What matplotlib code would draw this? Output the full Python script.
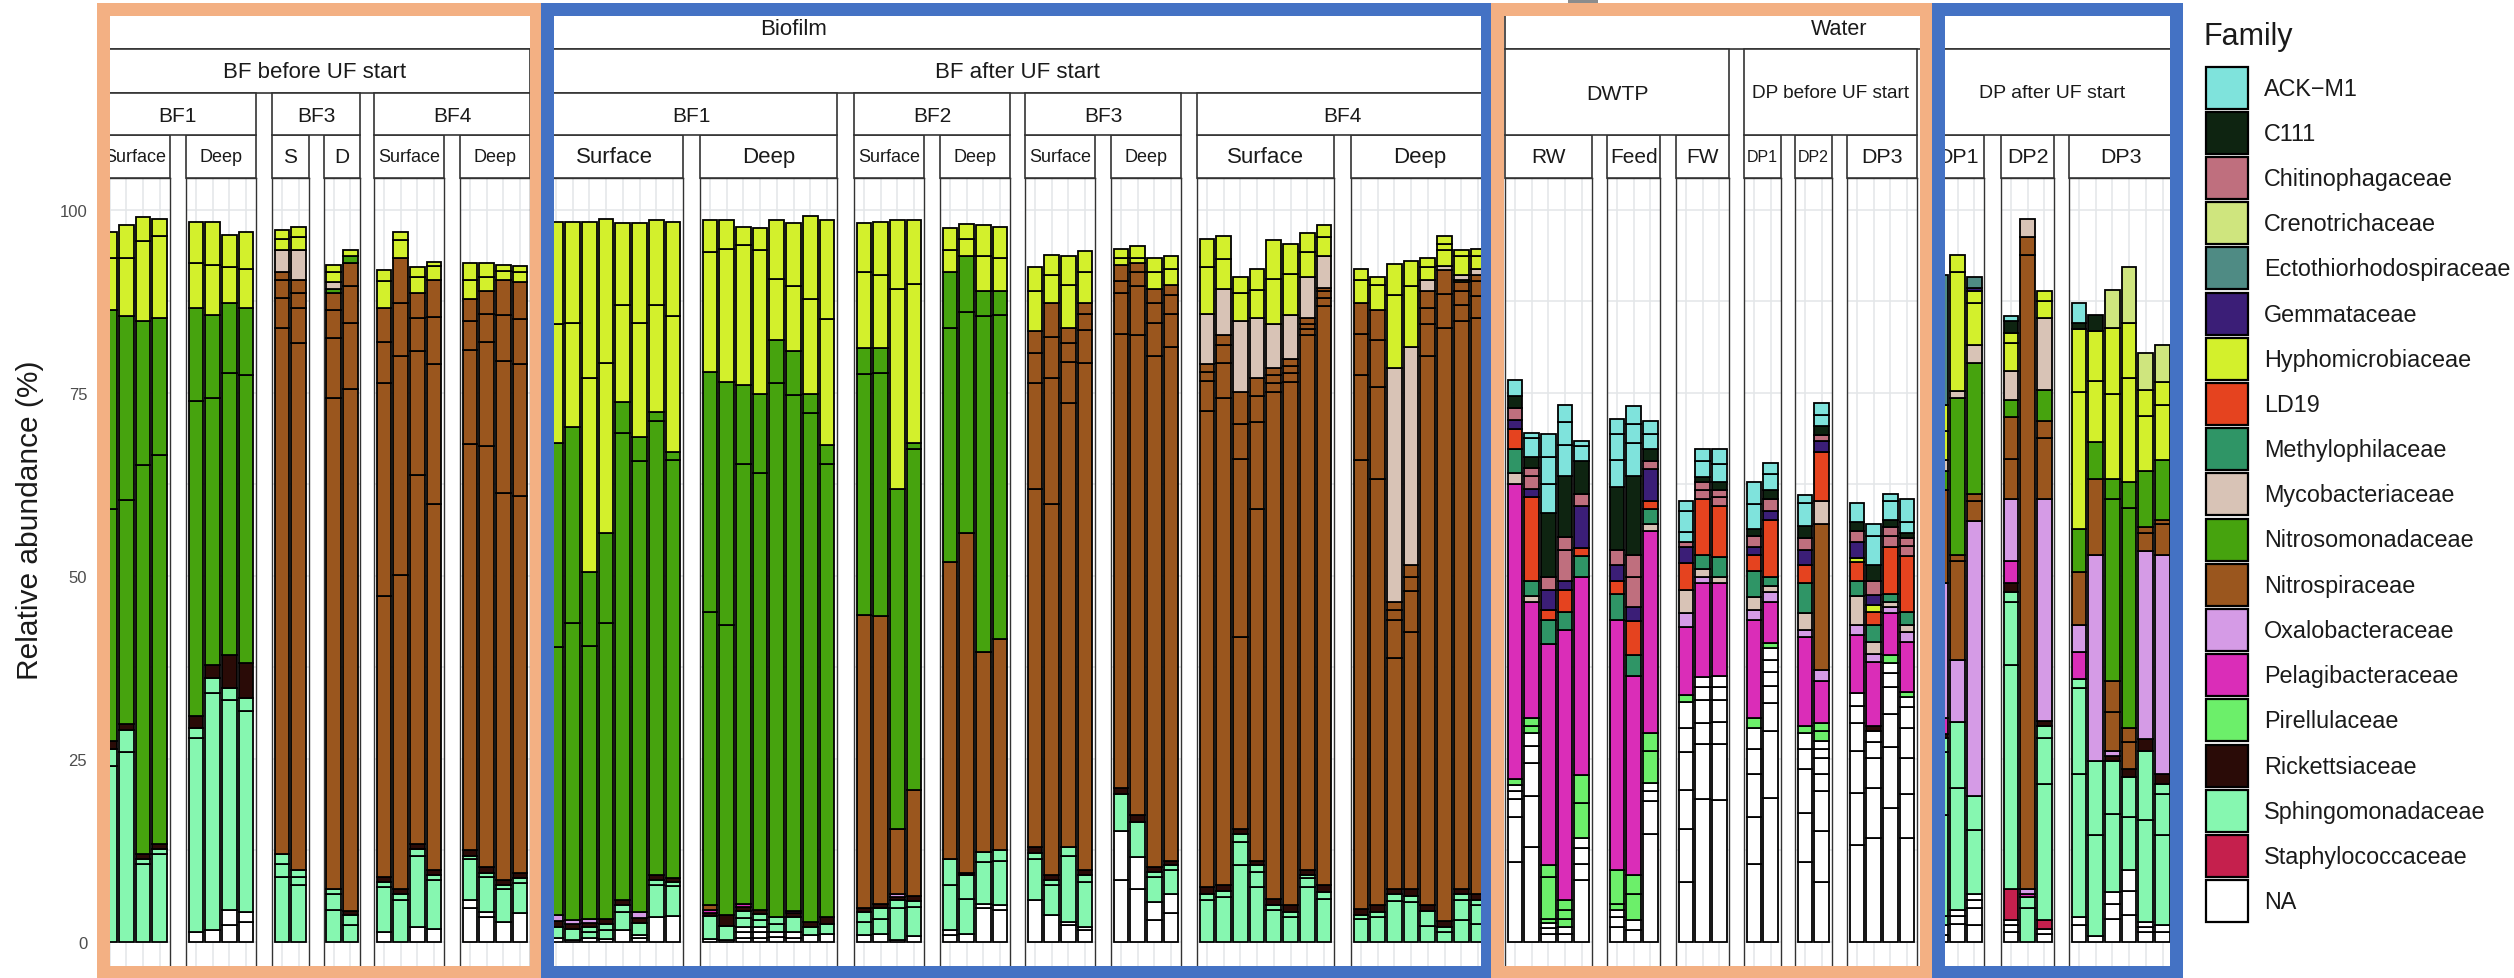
import matplotlib
matplotlib.use("Agg")
import matplotlib.pyplot as plt
from matplotlib.patches import Rectangle

plt.rcParams["font.family"] = ["Liberation Sans", "DejaVu Sans"]

# ---------------------------------------------------------------- families
family_labels = ["ACK\u2212M1", "C111", "Chitinophagaceae", "Crenotrichaceae",
                 "Ectothiorhodospiraceae", "Gemmataceae", "Hyphomicrobiaceae", "LD19",
                 "Methylophilaceae", "Mycobacteriaceae", "Nitrosomonadaceae",
                 "Nitrospiraceae", "Oxalobacteraceae", "Pelagibacteraceae",
                 "Pirellulaceae", "Rickettsiaceae", "Sphingomonadaceae",
                 "Staphylococcaceae", "NA"]
family_codes = ["ACK", "C111", "Chi", "Cre", "Ect", "Gem", "Hyp", "LD19", "Met", "Myc",
                "Nso", "Nsp", "Oxa", "Pel", "Pir", "Ric", "Sph", "Sta", "NA"]
family_colors = ["#7FE3DC", "#0E2411", "#BF6F7E", "#CFE57E", "#4F8B84", "#3B1E77",
                 "#D3F02C", "#E5431F", "#2F9566", "#D8C3B6", "#46A30E", "#9A561E",
                 "#D59BE6", "#DA2DB8", "#6CEF6A", "#2A0B07", "#86F7B0", "#C5204D",
                 "#FFFFFF"]

# ---------------------------------------------------------------- abundances (%)
# each bar: (family, OTU values...) ; OTUs of one family stack in the given order

# Biofilm - BF before UF start
pre_bf1_surface = [
    [("Sph", 24.0, 2.4), ("Ric", 1.1), ("Nso", 31.6, 27.2), ("Hyp", 7.2, 3.5)],
    [("Sph", 26.0, 2.9), ("Ric", 0.9), ("Nso", 30.6, 25.1), ("Hyp", 7.9, 4.5)],
    [("Sph", 10.6, 0.8), ("Ric", 0.6), ("Nso", 53.1, 19.8), ("Hyp", 10.9, 3.2)],
    [("Sph", 12.0, 0.7), ("Ric", 0.7), ("Nso", 53.1, 18.8), ("Hyp", 11.1, 2.4)],
]
pre_bf1_deep = [
    [("NA", 1.3), ("Sph", 26.5, 1.4), ("Ric", 1.7), ("Nso", 43.0, 12.7), ("Hyp", 6.2, 5.5)],
    [("NA", 1.6), ("Sph", 32.4, 2.1), ("Ric", 1.7), ("Nso", 36.5, 11.3), ("Hyp", 6.9, 5.8)],
    [("NA", 2.3, 2.1), ("Sph", 28.6, 1.7), ("Ric", 4.5), ("Nso", 38.5, 9.6), ("Hyp", 4.9, 4.4)],
    [("NA", 2.7, 1.4), ("Sph", 27.5, 1.7), ("Ric", 4.8), ("Nso", 39.3, 9.2), ("Hyp", 5.3, 5.1)],
]
pre_bf3_s = [
    [("Sph", 8.9, 1.7, 1.4), ("Nsp", 71.9, 4.1, 2.4, 1.1), ("Myc", 3.1), ("Hyp", 1.5, 1.2)],
    [("Sph", 7.8, 1.1, 1.0), ("Nsp", 71.9, 4.8, 2.1, 1.7), ("Myc", 4.2), ("Hyp", 1.7, 1.4)],
]
pre_bf3_d = [
    [("Sph", 4.4, 2.1, 0.7), ("Nsp", 67.1, 8.2, 3.8, 2.4), ("Nso", 0.5), ("Myc", 0.9),
     ("Hyp", 1.4, 1.0)],
    [("Sph", 2.3, 1.4), ("Ric", 0.6), ("Nsp", 71.2, 9.0, 5.1, 3.1), ("Nso", 1.0), ("Hyp", 0.8)],
]
pre_bf4_surface = [
    [("NA", 1.3), ("Sph", 6.2, 0.7), ("Ric", 0.7), ("Nsp", 38.3, 29.1, 5.7, 4.6), ("Hyp", 3.7, 1.5)],
    [("Sph", 5.8, 0.7), ("Ric", 0.7), ("Nsp", 43.0, 29.8, 7.3, 6.2), ("Hyp", 2.4, 1.1)],
    [("NA", 2.0), ("Sph", 9.8, 0.9), ("Ric", 0.7), ("Nsp", 50.4, 17.0, 4.5, 3.4), ("Hyp", 2.2, 1.3)],
    [("NA", 1.8), ("Sph", 6.7, 0.7), ("Ric", 0.7), ("Nsp", 50.0, 19.1, 6.4, 5.1), ("Hyp", 1.8, 0.6)],
]
pre_bf4_deep = [
    [("NA", 4.7, 1.1), ("Sph", 5.5, 0.5), ("Ric", 0.8), ("Nsp", 55.4, 12.9, 4.0, 2.9), ("Hyp", 2.7, 2.2)],
    [("NA", 3.4, 0.7), ("Sph", 4.8, 0.5), ("Ric", 0.8), ("Nsp", 57.5, 14.3, 3.8, 3.1), ("Hyp", 1.9, 2.0)],
    [("NA", 2.7), ("Sph", 4.5, 0.6), ("Ric", 0.6), ("Nsp", 52.9, 18.1, 6.2, 4.8), ("Hyp", 1.2, 0.9)],
    [("NA", 3.9), ("Sph", 4.1, 0.7), ("Ric", 0.7), ("Nsp", 51.5, 18.0, 6.2, 5.0), ("Hyp", 1.4, 0.8)],
]

# Biofilm - BF after UF start
post_bf1_surface = [
    [("NA", 0.6), ("Sph", 1.4), ("Ric", 0.8), ("Oxa", 0.9), ("Nso", 36.6, 27.8), ("Hyp", 16.3, 13.9)],
    [("NA", 0.3), ("Sph", 1.5), ("Ric", 0.7), ("Oxa", 0.5), ("Nso", 40.6, 26.7), ("Hyp", 14.3, 13.7)],
    [("NA", 0.5), ("Sph", 0.8, 0.8), ("Ric", 0.5), ("Oxa", 0.6), ("Nso", 37.3, 10.0), ("Hyp", 26.5, 21.3)],
    [("NA", 0.4), ("Sph", 1.3, 0.7), ("Ric", 0.8), ("Nso", 40.4, 12.3), ("Hyp", 23.2, 19.7)],
    [("NA", 1.7), ("Sph", 2.4, 1.0), ("Ric", 0.6), ("Nso", 63.9, 4.2), ("Hyp", 13.2, 11.2)],
    [("NA", 0.6, 0.4), ("Sph", 1.6), ("Ric", 0.7), ("Oxa", 0.8), ("Nso", 61.6, 3.3), ("Hyp", 15.5, 13.7)],
    [("NA", 3.4), ("Sph", 4.4, 0.7), ("Ric", 0.6), ("Nso", 62.1, 1.2), ("Hyp", 14.6, 11.6)],
    [("NA", 3.6), ("Sph", 4.1, 0.5), ("Ric", 0.6), ("Nso", 57.0, 1.2), ("Hyp", 18.5, 12.8)],
]
post_bf1_deep = [
    [("NA", 0.4), ("Sph", 3.1), ("Ric", 0.5), ("Pel", 0.4), ("Nsp", 0.6), ("Nso", 40.1, 32.8),
     ("Hyp", 16.3, 4.4)],
    [("NA", 0.3), ("Sph", 1.9), ("Ric", 1.5), ("Nso", 39.6, 33.2), ("Hyp", 18.2, 4.0)],
    [("NA", 0.6, 0.7, 0.7), ("Sph", 1.3, 1.0), ("Ric", 0.5), ("Pel", 0.4), ("Nso", 60.1, 10.8),
     ("Hyp", 19.1, 2.5)],
    [("NA", 0.6, 0.7, 0.7), ("Sph", 1.0, 0.8), ("Ric", 0.6), ("Nso", 59.7, 10.8), ("Hyp", 19.7, 2.9)],
    [("NA", 0.7, 0.6), ("Sph", 1.2, 0.9), ("Nso", 72.9, 5.9), ("Hyp", 8.4, 8.0)],
    [("NA", 0.6, 0.7), ("Sph", 2.1), ("Ric", 0.6), ("Pel", 0.3), ("Nso", 70.4, 6.0), ("Hyp", 8.9, 8.6)],
    [("NA", 1.0), ("Sph", 1.0), ("Ric", 0.7), ("Nso", 69.5, 2.7), ("Hyp", 12.9, 11.4)],
    [("NA", 1.1), ("Sph", 1.4), ("Ric", 0.9), ("Nso", 61.9, 2.6), ("Hyp", 17.2, 13.6)],
]
post_bf2_surface = [
    [("NA", 1.0), ("Sph", 1.7, 1.4), ("Ric", 0.6), ("Nsp", 40.0), ("Nso", 32.9, 3.5), ("Hyp", 10.4, 6.7)],
    [("NA", 1.1), ("Sph", 2.1, 1.4), ("Ric", 0.6), ("Nsp", 39.3), ("Nso", 33.2, 3.4), ("Hyp", 10.0, 7.2)],
    [("NA", 0.3), ("Sph", 4.4, 1.1), ("Ric", 0.3), ("Oxa", 0.4), ("Nsp", 8.9), ("Nso", 46.5),
     ("Hyp", 27.3, 9.4)],
    [("NA", 0.8), ("Sph", 4.0, 0.8), ("Ric", 0.7), ("Nsp", 14.5), ("Nso", 46.6, 0.7), ("Hyp", 21.8, 8.7)],
]
post_bf2_deep = [
    [("NA", 1.0, 0.7), ("Sph", 6.1, 3.5), ("Nsp", 40.6), ("Nso", 32.0, 7.6), ("Hyp", 3.1, 2.9)],
    [("NA", 1.1), ("Sph", 4.8, 3.2), ("Ric", 0.3), ("Nsp", 46.5), ("Nso", 30.1, 7.7), ("Hyp", 2.4, 2.0)],
    [("NA", 4.7, 0.5), ("Sph", 5.7, 1.4), ("Nsp", 27.3), ("Nso", 45.9, 3.5), ("Hyp", 4.7, 4.3)],
    [("NA", 4.4, 0.7), ("Sph", 6.0, 1.4), ("Nsp", 28.9), ("Nso", 44.2, 3.4), ("Hyp", 4.5, 4.2)],
]
post_bf3_surface = [
    [("NA", 5.8), ("Sph", 5.6, 0.7), ("Ric", 0.9), ("Nsp", 48.9, 14.4, 4.2, 2.9), ("Hyp", 5.6, 3.2)],
    [("NA", 3.7), ("Sph", 4.1, 0.7), ("Ric", 0.7), ("Nsp", 50.6, 17.2, 5.7, 4.6), ("Hyp", 3.8, 2.8)],
    [("NA", 2.3, 0.4), ("Sph", 9.1, 1.2), ("Nsp", 60.6, 5.7, 2.5, 2.1), ("Hyp", 5.8, 4.0)],
    [("NA", 1.7, 0.4), ("Sph", 6.1, 1.0), ("Ric", 0.7), ("Nsp", 69.2, 4.5, 2.2, 1.5), ("Hyp", 4.2, 2.9)],
]
post_bf3_deep = [
    [("NA", 8.5, 6.6), ("Sph", 5.1), ("Ric", 0.9), ("Nsp", 61.9, 5.6, 1.7, 2.2), ("Hyp", 1.0, 1.2)],
    [("NA", 7.3, 4.3), ("Sph", 4.8), ("Ric", 0.9), ("Nsp", 65.6, 6.7, 1.9, 1.3), ("Hyp", 0.7, 1.6)],
    [("NA", 3.0, 2.4), ("Sph", 3.5, 0.7), ("Ric", 0.7), ("Nsp", 69.8, 4.5, 2.7, 1.9), ("Hyp", 2.3, 2.0)],
    [("NA", 3.9, 2.6), ("Sph", 3.4, 0.6), ("Ric", 0.6), ("Nsp", 70.2, 4.5, 2.6, 1.3), ("Hyp", 2.2, 1.8)],
]
post_bf4_surface = [
    [("Sph", 5.8, 0.7), ("Ric", 1.0), ("Nsp", 65.0, 4.2, 1.2, 1.0), ("Myc", 6.9), ("Hyp", 6.4, 3.9)],
    [("Sph", 6.1, 0.9), ("Ric", 0.8), ("Nsp", 66.5, 4.8, 2.4, 1.4), ("Myc", 6.3), ("Hyp", 4.1, 3.2)],
    [("Sph", 10.5, 3.2, 1.0), ("Ric", 0.7), ("Nsp", 26.3, 24.3, 4.8, 4.4), ("Myc", 9.6), ("Hyp", 3.8, 2.2)],
    [("Sph", 7.5, 2.1, 0.9), ("Ric", 0.6), ("Nsp", 48.0, 11.9, 3.6, 2.4), ("Myc", 8.3), ("Hyp", 3.8, 2.8)],
    [("Sph", 4.4, 0.7), ("Ric", 0.8), ("Nsp", 69.3, 1.1, 1.1, 1.0), ("Myc", 6.0), ("Hyp", 6.2, 5.3)],
    [("Sph", 3.4, 0.7), ("Ric", 0.9), ("Nsp", 71.5, 1.2, 1.0, 0.9), ("Myc", 6.0), ("Hyp", 5.7, 4.1)],
    [("Sph", 7.5, 1.2, 0.5), ("Ric", 0.7), ("Nsp", 73.0, 0.8, 0.7, 0.9), ("Myc", 5.5), ("Hyp", 3.4, 2.6)],
    [("Sph", 5.9, 0.9), ("Ric", 1.0), ("Nsp", 79.1, 1.1, 0.9, 0.5), ("Myc", 4.3), ("Hyp", 2.6, 1.6)],
]
post_bf4_deep = [
    [("Sph", 3.2, 0.5), ("Ric", 0.8), ("Nsp", 61.3, 11.6, 5.6, 4.3), ("Hyp", 3.1, 1.5)],
    [("Sph", 3.4, 0.7), ("Ric", 1.0), ("Nsp", 58.1, 12.6, 6.4, 4.2), ("Hyp", 3.3, 1.1)],
    [("Sph", 5.6, 1.0), ("Ric", 0.7), ("Nsp", 31.5, 5.2, 1.4, 1.1), ("Myc", 31.9), ("Hyp", 10.0, 4.2)],
    [("Sph", 5.4, 0.9), ("Ric", 0.9), ("Nsp", 35.2, 5.5, 1.9, 1.7), ("Myc", 29.8), ("Hyp", 8.3, 3.4)],
    [("Sph", 2.2, 2.0), ("Ric", 0.9), ("Nsp", 75.0, 4.3, 2.2, 2.3), ("Myc", 1.5), ("Hyp", 1.8, 1.3)],
    [("Sph", 1.3, 0.7), ("Ric", 0.8), ("Nsp", 81.1, 4.6, 3.3), ("Myc", 0.6), ("Hyp", 2.2, 0.8, 1.1)],
    [("Sph", 3.0, 2.8, 0.7), ("Ric", 0.8), ("Nsp", 77.6, 2.1, 1.9, 1.2), ("Nso", 0.4), ("Myc", 0.6),
     ("Hyp", 2.6, 0.9)],
    [("Sph", 2.5, 2.6, 0.7), ("Ric", 0.7), ("Nsp", 78.8, 2.9, 2.1, 0.8), ("Myc", 0.8), ("Hyp", 1.8, 1.0)],
]

# Water - DWTP
dwtp_rw = [
    [("NA", 10.9, 6.2, 2.4, 1.1, 0.9), ("Pir", 0.8), ("Pel", 40.3), ("Myc", 1.5), ("Met", 3.3),
     ("LD19", 2.7), ("Gem", 1.2), ("Chi", 1.6), ("C111", 1.7), ("ACK", 2.2)],
    [("NA", 13.0, 6.9, 4.5, 2.4, 1.7), ("Pir", 1.0, 1.1), ("Pel", 15.8), ("Myc", 0.8), ("Met", 2.1),
     ("LD19", 11.5), ("Gem", 1.1), ("Chi", 1.7, 1.2), ("C111", 1.5), ("ACK", 2.5, 0.8)],
    [("NA", 1.1, 0.8, 0.7), ("Pir", 0.6, 5.7, 1.6), ("Pel", 30.2), ("Met", 3.3), ("LD19", 1.4),
     ("Gem", 2.7), ("Chi", 1.7), ("C111", 8.8), ("ACK", 4.0, 3.7, 3.1)],
    [("NA", 1.1, 0.9), ("Pir", 1.2, 1.2, 1.4), ("Pel", 36.8), ("Met", 2.5), ("LD19", 3.0),
     ("Gem", 1.2), ("Chi", 4.3, 1.7), ("C111", 8.4), ("ACK", 4.2, 3.1, 2.4)],
    [("NA", 8.5, 2.2, 2.1, 1.4), ("Pir", 4.8, 3.8), ("Pel", 27.0), ("Met", 2.9), ("LD19", 1.1),
     ("Gem", 5.8), ("Chi", 1.6), ("C111", 4.5), ("ACK", 2.0, 0.8)],
]
dwtp_feed = [
    [("NA", 2.0, 1.4, 1.0), ("Pir", 0.8, 4.7), ("Pel", 34.1), ("Met", 3.6), ("LD19", 1.7),
     ("Gem", 2.2), ("Chi", 2.1), ("C111", 8.6), ("ACK", 3.6, 3.6, 2.1)],
    [("NA", 1.7, 1.3), ("Pir", 3.5, 2.7), ("Pel", 27.2), ("Met", 2.8), ("LD19", 4.6), ("Gem", 2.0),
     ("Chi", 4.0, 3.1), ("C111", 10.8), ("ACK", 4.4, 2.7, 2.4)],
    [("NA", 14.7, 4.5, 1.4, 1.1), ("Pir", 4.4, 2.4), ("Pel", 27.7), ("Myc", 0.9), ("Met", 2.0),
     ("LD19", 1.2), ("Gem", 4.3), ("Chi", 1.1), ("C111", 1.7), ("ACK", 2.0, 1.8)],
]
dwtp_fw = [
    [("NA", 8.2, 7.2, 5.4, 5.1, 3.3, 3.6), ("Pir", 0.9), ("Pel", 9.3), ("Oxa", 2.0), ("Myc", 3.1),
     ("LD19", 3.7), ("Gem", 2.2), ("Chi", 0.6), ("ACK", 1.4, 2.9, 1.3)],
    [("NA", 19.5, 7.5, 2.9, 3.1, 1.8, 1.4), ("Pel", 12.9), ("Oxa", 0.7), ("Myc", 1.1), ("Met", 2.0),
     ("LD19", 7.6), ("Chi", 1.2, 1.2), ("C111", 0.6), ("ACK", 2.2, 1.7)],
    [("NA", 19.4, 7.6, 3.0, 3.0, 1.8, 1.6), ("Pel", 12.6), ("Myc", 0.8), ("Met", 2.8), ("LD19", 7.0),
     ("Chi", 1.2, 0.9), ("C111", 1.2), ("ACK", 2.4, 2.1)],
]

# Water - DP before UF start
dp_pre_dp1 = [
    [("NA", 10.6, 6.5, 5.9, 3.4, 2.8), ("Pir", 1.4), ("Pel", 13.4), ("Oxa", 1.4), ("Myc", 1.7),
     ("Met", 3.6), ("LD19", 2.2), ("Gem", 1.1), ("Chi", 1.5), ("C111", 0.9), ("ACK", 3.4, 3.0)],
    [("NA", 19.7, 9.1, 3.8, 2.4, 1.9, 1.6, 1.6), ("Pir", 0.8), ("Pel", 5.6), ("Oxa", 1.3), ("Myc", 0.8),
     ("Met", 1.2), ("LD19", 7.9), ("Gem", 1.2), ("Chi", 1.6), ("C111", 1.2), ("ACK", 2.2, 1.6)],
]
dp_pre_dp2 = [
    [("NA", 10.9, 6.7, 6.1, 2.7, 2.1), ("Pir", 1.0), ("Pel", 12.1), ("Oxa", 1.0), ("Myc", 2.4),
     ("Met", 4.0), ("LD19", 2.5), ("Gem", 2.1), ("Chi", 1.6), ("C111", 1.6), ("ACK", 3.2, 1.0)],
    [("NA", 8.2, 6.9, 5.5, 2.4, 2.1, 1.3, 1.1), ("Pir", 1.3, 1.1), ("Pel", 5.8), ("Oxa", 1.4),
     ("Nsp", 20.0), ("Myc", 3.1), ("LD19", 6.8), ("Gem", 1.4), ("Chi", 0.8), ("C111", 1.3),
     ("ACK", 1.5, 1.6)],
]
dp_pre_dp3 = [
    [("NA", 13.3, 7.1, 5.7, 3.8, 2.4, 1.7), ("Pel", 7.9), ("Oxa", 1.4), ("Myc", 3.9), ("Met", 2.1),
     ("LD19", 2.6), ("Hyp", 0.5), ("Gem", 2.2), ("Chi", 1.6), ("C111", 1.2), ("ACK", 2.6)],
    [("NA", 14.2, 6.9, 4.1, 2.1, 1.5), ("Ric", 0.7), ("Pel", 8.8), ("Oxa", 1.1), ("Myc", 1.6),
     ("Met", 2.3), ("LD19", 1.8), ("Hyp", 1.0), ("Gem", 1.3), ("Chi", 1.9), ("C111", 2.2),
     ("ACK", 4.0, 1.6)],
    [("NA", 18.3, 8.3, 4.5, 3.7, 2.0, 1.3), ("Pir", 1.1), ("Pel", 5.7), ("Oxa", 0.9), ("Myc", 0.7),
     ("Met", 1.1), ("LD19", 6.4), ("Chi", 1.5, 1.2), ("C111", 1.0), ("ACK", 2.6, 0.9)],
    [("NA", 14.2, 6.0, 4.9, 4.1, 2.9, 1.3), ("Pir", 0.7), ("Pel", 6.9), ("Oxa", 1.3), ("Myc", 1.0),
     ("Met", 1.8), ("LD19", 7.6), ("Chi", 1.4, 1.1), ("C111", 0.7), ("ACK", 1.5, 3.1)],
]

# Water - DP after UF start
dp_post_dp1 = [
    [("NA", 1.0, 1.3), ("Sph", 1.3, 13.7, 8.6, 2.0), ("Ric", 0.5), ("Pel", 2.2), ("Oxa", 18.4),
     ("Nsp", 12.7), ("Nso", 2.6), ("Myc", 1.5), ("Hyp", 4.0, 3.6), ("Ect", 17.7)],
    [("NA", 2.5, 1.1, 0.8), ("Sph", 16.7, 8.9), ("Oxa", 8.5), ("Nsp", 13.5, 0.9), ("Nso", 21.4),
     ("Myc", 1.0), ("Hyp", 16.2, 2.4)],
    [("NA", 2.3, 2.4, 1.1, 0.8), ("Sph", 8.7, 4.6), ("Oxa", 37.6), ("Nsp", 2.7, 1.0), ("Nso", 17.9),
     ("Myc", 2.4), ("Hyp", 5.8, 1.6), ("Gem", 0.5), ("Ect", 1.4)],
]
dp_post_dp2 = [
    [("NA", 1.3, 1.0, 0.7), ("Sta", 4.2), ("Sph", 30.6, 8.6, 1.4), ("Ric", 1.2), ("Pel", 3.0),
     ("Oxa", 8.5), ("Nsp", 5.5, 5.7), ("Nso", 2.4), ("Myc", 3.9), ("Hyp", 3.8, 1.4), ("C111", 1.6),
     ("ACK", 0.7)],
    [("Sph", 4.7, 1.4), ("Pel", 0.4), ("Oxa", 0.7), ("Nsp", 86.7, 2.4), ("Myc", 2.5)],
    [("NA", 1.1, 0.7), ("Sta", 1.2), ("Sph", 18.6, 6.2, 1.7), ("Ric", 0.7), ("Oxa", 30.3),
     ("Nsp", 8.3, 2.4), ("Nso", 4.2), ("Myc", 9.9), ("Hyp", 2.2, 1.4)],
]
dp_post_dp3 = [
    [("NA", 2.3, 1.1), ("Sph", 19.6, 11.7, 1.2), ("Pel", 3.7), ("Oxa", 3.7), ("Nsp", 7.2),
     ("Nso", 5.9), ("Hyp", 18.8, 8.5), ("C111", 0.9), ("ACK", 2.7)],
    [("NA", 0.8), ("Sph", 13.8, 10.1), ("Oxa", 28.2), ("Nsp", 10.3), ("Nso", 5.1), ("Hyp", 8.4, 6.7),
     ("C111", 2.2)],
    [("NA", 3.2, 2.0, 1.6), ("Sph", 10.7, 7.2), ("Ric", 0.7), ("Oxa", 0.7), ("Nsp", 5.3, 4.3),
     ("Nso", 24.8, 2.7), ("Hyp", 11.7, 9.0), ("Cre", 5.2)],
    [("NA", 3.7, 3.3, 2.8), ("Sph", 7.3, 5.5), ("Ric", 1.1), ("Nsp", 3.6, 2.0), ("Nso", 30.0, 3.6),
     ("Hyp", 14.1, 7.6), ("Cre", 7.6)],
    [("NA", 1.3, 0.7, 0.7), ("Sph", 14.0, 9.4), ("Ric", 1.6), ("Oxa", 25.7), ("Nsp", 2.5, 0.8),
     ("Nso", 7.6), ("Hyp", 7.6, 3.5), ("Cre", 5.1)],
    [("NA", 1.3, 1.0), ("Sph", 12.3, 5.6, 1.4), ("Ric", 1.4), ("Oxa", 29.9), ("Nsp", 4.2, 0.6),
     ("Nso", 8.1), ("Hyp", 7.6, 3.1), ("Cre", 5.0)],
]

# ---------------------------------------------------------------- figure geometry (pixels)
W, H, DPI = 2514, 979, 100
UNIT = 16.7                    # pixels per bar slot
PANEL_TOP, PANEL_BOTTOM = 179, 979
Y_LIMITS = (-4.92, 104.37)

panel_list = [
    (pre_bf1_surface, "Surface", 13, 99.7), (pre_bf1_deep, "Deep", 13, 186),
    (pre_bf3_s, "S", 15, 272), (pre_bf3_d, "D", 15, 323.5),
    (pre_bf4_surface, "Surface", 13, 374), (pre_bf4_deep, "Deep", 13, 460),
    (post_bf1_surface, "Surface", 16, 546), (post_bf1_deep, "Deep", 16, 700),
    (post_bf2_surface, "Surface", 13, 854), (post_bf2_deep, "Deep", 13, 940),
    (post_bf3_surface, "Surface", 13, 1025), (post_bf3_deep, "Deep", 13, 1111),
    (post_bf4_surface, "Surface", 16, 1197), (post_bf4_deep, "Deep", 16, 1351),
    (dwtp_rw, "RW", 15, 1505), (dwtp_feed, "Feed", 15, 1607), (dwtp_fw, "FW", 15, 1676),
    (dp_pre_dp1, "DP1", 11.5, 1744), (dp_pre_dp2, "DP2", 11.5, 1795), (dp_pre_dp3, "DP3", 15.4, 1847),
    (dp_post_dp1, "DP1", 15.4, 1931), (dp_post_dp2, "DP2", 15.4, 2001), (dp_post_dp3, "DP3", 15.4, 2069),
]

# nested strips: (label, first panel, last panel, y top, y bottom, font size)
strip_groups = [
    ("Biofilm", 0, 13, 7, 50, 16), ("Water", 14, 22, 7, 50, 15.5),
    ("BF before UF start", 0, 5, 50, 94, 16), ("BF after UF start", 6, 13, 50, 94, 16),
    ("DWTP", 14, 16, 50, 136, 15.3), ("DP before UF start", 17, 19, 50, 136, 13.7),
    ("DP after UF start", 20, 22, 50, 136, 14),
    ("BF1", 0, 1, 94, 136, 15), ("BF3", 2, 3, 94, 136, 15), ("BF4", 4, 5, 94, 136, 15),
    ("BF1", 6, 7, 94, 136, 15), ("BF2", 8, 9, 94, 136, 15), ("BF3", 10, 11, 94, 136, 15),
    ("BF4", 12, 13, 94, 136, 15),
]

color_of = dict(zip(family_codes, family_colors))
stack_rank = {c: i for i, c in enumerate(reversed(family_codes))}
EDGE = "#333333"
GRID = "#E3E6E8"
TEXT = "#1A1A1A"

fig = plt.figure(figsize=(W / DPI, H / DPI), dpi=DPI)
fig.patch.set_facecolor("white")


def fx(x):
    return x / W


def fy(y):
    return 1 - y / H


def px_rect(x0, y0, x1, y1, **kw):
    r = Rectangle((fx(x0), fy(y1)), (x1 - x0) / W, (y1 - y0) / H,
                  transform=fig.transFigure, **kw)
    fig.add_artist(r)
    return r


def panel_span(i):
    bars, _, _, left = panel_list[i]
    return left, left + (len(bars) + 0.2) * UNIT


def draw_bars(ax, bars):
    for i, bar in enumerate(bars):
        base = 0.0
        for seg in sorted(bar, key=lambda s: stack_rank[s[0]]):
            for v in seg[1:]:
                ax.bar(i, v, bottom=base, width=0.88, color=color_of[seg[0]],
                       edgecolor="black", linewidth=1.3, zorder=3)
                base += v


for k, (bars, label, fsize, left) in enumerate(panel_list):
    x0, x1 = panel_span(k)
    ax = fig.add_axes([fx(x0), fy(PANEL_BOTTOM), (x1 - x0) / W, (PANEL_BOTTOM - PANEL_TOP) / H])
    draw_bars(ax, bars)
    n = len(bars)
    ax.set_xlim(-0.6, n - 0.4)
    ax.set_ylim(*Y_LIMITS)
    ax.set_xticks(range(n))
    ax.set_yticks([0, 25, 50, 75, 100])
    ax.set_yticks([12.5, 37.5, 62.5, 87.5], minor=True)
    ax.grid(True, which="both", color=GRID, linewidth=1.1)
    ax.set_axisbelow(True)
    ax.tick_params(which="both", length=0, labelbottom=False, labelleft=(k == 0),
                   labelsize=12, labelcolor="#4D4D4D", pad=9)
    for sp in ax.spines.values():
        sp.set_color(EDGE)
        sp.set_linewidth(1.0)
    # lowest strip row
    px_rect(x0, 136, x1, PANEL_TOP, facecolor="white", edgecolor=EDGE, linewidth=1.2, zorder=2)
    fig.text(fx((x0 + x1) / 2), fy(157.5), label, ha="center", va="center",
             fontsize=fsize, color=TEXT, zorder=3)

for label, a, b, y0, y1, fsize in strip_groups:
    x0 = panel_span(a)[0]
    x1 = panel_span(b)[1]
    px_rect(x0, y0, x1, y1, facecolor="white", edgecolor=EDGE, linewidth=1.2, zorder=2)
    fig.text(fx((x0 + x1) / 2), fy((y0 + y1) / 2 + 1), label, ha="center", va="center",
             fontsize=fsize, color=TEXT, zorder=3)

fig.text(fx(30), fy(520), "Relative abundance (%)", rotation=90, ha="center", va="center",
         fontsize=21.5, color=TEXT)

# legend
fig.text(fx(2203), fy(37), "Family", ha="left", va="center", fontsize=22, color=TEXT)
for i, (lab, code) in enumerate(zip(family_labels, family_codes)):
    top = 66 + i * 45.2
    px_rect(2206, top + 1.5, 2248, top + 43.5, facecolor=color_of[code], edgecolor="black",
            linewidth=1.6, zorder=5)
    fig.text(fx(2264), fy(top + 23), lab, ha="left", va="center", fontsize=16.8, color=TEXT)

# highlight frames around the before / after groups
FRAME_W = 13 / DPI * 72
ORANGE, BLUE = "#F3B083", "#4472C4"
px_rect(1568, 0, 1598, 9, facecolor="#8C8C8C", edgecolor="none", zorder=8)
for (x0, x1, col) in [(102.5, 535.5, ORANGE), (546.5, 1487, BLUE),
                      (1497, 1925.5, ORANGE), (1938, 2175.5, BLUE)]:
    px_rect(x0, 9.5, x1, 972.5, facecolor="none", edgecolor=col, linewidth=FRAME_W, zorder=10)

fig.savefig("out.png", dpi=DPI, facecolor="white")
